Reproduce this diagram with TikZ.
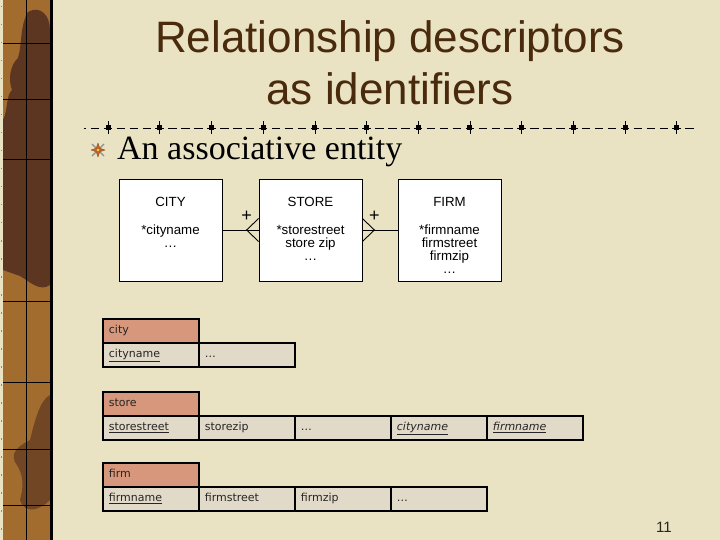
\documentclass[tikz,border=0pt]{standalone}
\usepackage{fontspec}
\setmainfont{Liberation Serif}
\newfontfamily\titlefont{Liberation Sans}
\newfontfamily\erfont{Liberation Sans}
\newfontfamily\tabfont{DejaVu Sans}
\usetikzlibrary{calc}
\definecolor{bg}{HTML}{E9E3C4}
\definecolor{titlebrown}{HTML}{4A2A0C}
\definecolor{striplight}{HTML}{A36C2F}
\definecolor{stripdark}{HTML}{5C3620}
\definecolor{headfill}{HTML}{D6977C}
\definecolor{cellfill}{HTML}{E2DAC8}
\definecolor{starorange}{HTML}{C8641E}
\tikzset{
  entity/.style={draw=black, fill=white, line width=0.8pt, minimum width=103pt, minimum height=102pt, inner sep=0pt},
  ertext/.style={font=\erfont\fontsize{13.3}{15}\selectfont, anchor=base, inner sep=0pt},
  conn/.style={draw=black, line width=0.9pt},
  tcell/.style={draw=black, line width=1.8pt, fill=cellfill, minimum width=96pt, minimum height=24pt, inner xsep=6pt, inner ysep=0pt, text width=84pt, text height=8.5pt, text depth=2.5pt, align=left, anchor=north west, font=\tabfont\fontsize{11}{13}\selectfont, text=black!85},
  thead/.style={tcell, fill=headfill},
  titletext/.style={font=\titlefont\fontsize{44}{52}\selectfont, text=titlebrown, anchor=base},
}
\begin{document}
\begin{tikzpicture}[x=1pt,y=-1pt]
\useasboundingbox (0,0) rectangle (720,540);
\fill[bg] (0,0) rectangle (720,540);
% left decorative strip
\fill[striplight] (3,0) rectangle (50,540);
\begin{scope}
\clip (3,0) rectangle (50,540);
\fill[stripdark] (28,12) .. controls (40,5) and (50,15) .. (50,30) -- (50,285) .. controls (40,292) and (30,282) .. (20,276) -- (3,270) -- (3,120) .. controls (8,110) and (6,95) .. (12,90) .. controls (8,80) and (10,65) .. (18,58) .. controls (22,45) and (20,25) .. (28,12) -- cycle;
\fill[stripdark, opacity=0.7] (50,395) .. controls (40,400) and (35,420) .. (30,440) .. controls (20,445) and (10,452) .. (15,462) .. controls (22,472) and (25,482) .. (20,500) .. controls (25,515) and (40,510) .. (50,500) -- cycle;
\end{scope}
\draw[black, line width=0.8pt] (26,0) -- (26,540);
\foreach \yy in {43,99,159,301,382,449,505}{\draw[black, line width=0.8pt] (3,\yy) -- (50,\yy);}
\fill[black] (49.5,0) rectangle (52.5,540);
\foreach \yy in {6,24,...,540}{\fill[black!45] (0.5,\yy) rectangle (2,\yy+1.5);}
% title
\node[titletext] (title1) at (390,53) {Relationship descriptors};
\node[titletext] (title2) at (390,105) {as identifiers};
% separator
\draw[black, line width=0.8pt, dash pattern=on 8.5pt off 4.425pt, dash phase=6.1pt] (84,128) -- (696,128);
\foreach \i in {0,...,11}{
  \fill[black] (108+51.7*\i-2.5,125.5) rectangle ++(5,5);
  \draw[black, line width=0.5pt] (108+51.7*\i,121.5) -- (108+51.7*\i,134.5);
}
% bullet
\begin{scope}[shift={(98,150)}]
\draw[black!45, line width=1.2pt] (-6,-6) -- (6,6) (-6,6) -- (6,-6);
\fill[starorange, draw=brown!60!black, line width=0.3pt] (0,-7) -- (1.8,-1.8) -- (7,0) -- (1.8,1.8) -- (0,7) -- (-1.8,1.8) -- (-7,0) -- (-1.8,-1.8) -- cycle;
\fill[yellow!60!white] (0,0) circle (1.2);
\end{scope}
\node[font=\fontsize{34}{40}\selectfont, anchor=base west, inner sep=0pt] (sub) at (117,160) {An associative entity};
% ER diagram
\node[entity] (city) at (170.5,230) {};
\node[entity] (store) at (310.5,230) {};
\node[entity] (firm) at (449.5,230) {};
\node[ertext] (cityT) at (170.5,206.7) {CITY};
\node[ertext] (cityA) at (170.5,234) {*cityname};
\node[ertext] (cityB) at (170.5,247.2) {…};
\node[ertext] (storeT) at (310.5,206.7) {STORE};
\node[ertext] (storeA) at (310.5,234) {*storestreet};
\node[ertext] (storeB) at (310.5,247.2) {store zip};
\node[ertext] (storeC) at (310.5,260.4) {…};
\node[ertext] (firmT) at (449.5,206.7) {FIRM};
\node[ertext] (firmA) at (449.5,234) {*firmname};
\node[ertext] (firmB) at (449.5,247.2) {firmstreet};
\node[ertext] (firmC) at (449.5,260.4) {firmzip};
\node[ertext] (firmD) at (449.5,273.6) {…};
\draw[conn] (city) -- (store);
\draw[conn] (store) -- (firm);
\coordinate (cfL) at ($(store.west)+(-12,0)$);
\coordinate (cfR) at ($(store.east)+(12,0)$);
\draw[conn] ($(store.west)+(0,-11.5)$) -- (cfL) -- ($(store.west)+(0,11.5)$);
\draw[conn] ($(store.east)+(0,-11.5)$) -- (cfR) -- ($(store.east)+(0,11.5)$);
\node[font=\erfont\fontsize{18}{20}\selectfont, inner sep=0pt] (plusL) at ($(store.west)+(-12,-13.5)$) {+};
\node[font=\erfont\fontsize{18}{20}\selectfont, inner sep=0pt] (plusR) at ($(store.east)+(12,-13.5)$) {+};
% relational tables
\node[thead] (tcity) at (102,318) {city};
\node[tcell] (tcity1) at (102,342) {\underline{cityname}};
\node[tcell] (tcity2) at (198,342) {…};
\node[thead] (tstore) at (102,391) {store};
\node[tcell] (tstore1) at (102,415) {\underline{storestreet}};
\node[tcell] (tstore2) at (198,415) {storezip};
\node[tcell] (tstore3) at (294,415) {…};
\node[tcell] (tstore4) at (390,415) {\itshape\underline{cityname}};
\node[tcell] (tstore5) at (486,415) {\itshape\underline{firmname}};
\node[thead] (tfirm) at (102,462) {firm};
\node[tcell] (tfirm1) at (102,486) {\underline{firmname}};
\node[tcell] (tfirm2) at (198,486) {firmstreet};
\node[tcell] (tfirm3) at (294,486) {firmzip};
\node[tcell] (tfirm4) at (390,486) {…};
% page number
\node[font=\titlefont\fontsize{15}{18}\selectfont, text=black!85] (pnum) at (664,527) {11};
\end{tikzpicture}
\end{document}
